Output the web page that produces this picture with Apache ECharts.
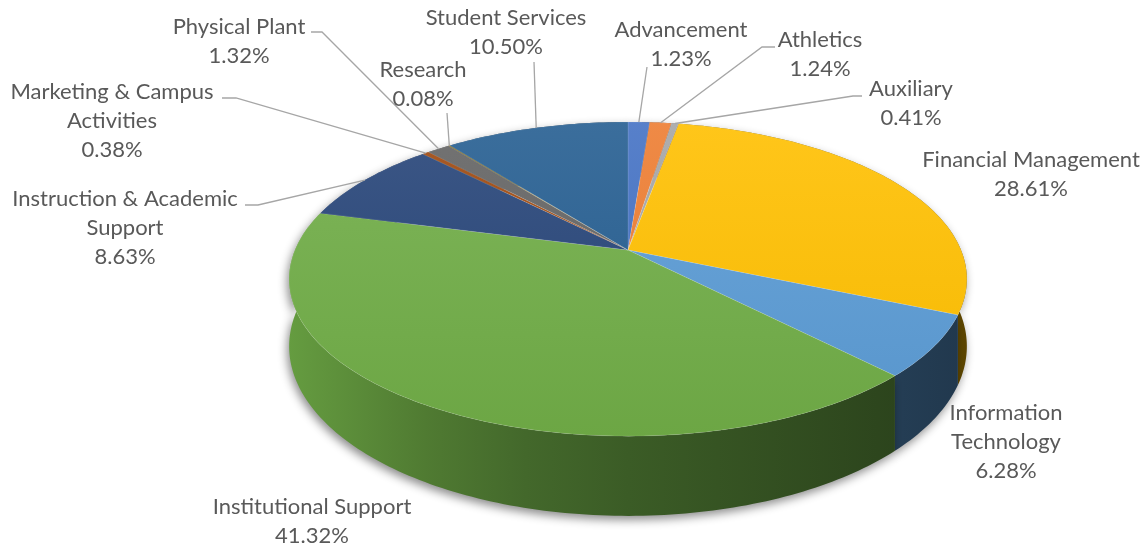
<!DOCTYPE html>
<html><head><meta charset="utf-8">
<script src="https://cdn.jsdelivr.net/npm/echarts@6/dist/echarts.min.js"></script>
<style>html,body{margin:0;padding:0;background:#fff}#c{width:1147px;height:546px}</style>
</head><body><div id="c"></div>
<script>
// ---- data ----
const categories = ['Advancement','Athletics','Auxiliary','Financial Management','Information Technology','Institutional Support','Instruction & Academic Support','Marketing & Campus Activities','Physical Plant','Research','Student Services'];
const values = [1.23, 1.24, 0.41, 28.61, 6.28, 41.32, 8.63, 0.38, 1.32, 0.08, 10.50];
const labelNames = ['Advancement','Athletics','Auxiliary','Financial Management','Information\nTechnology','Institutional Support','Instruction & Academic\nSupport','Marketing & Campus\nActivities','Physical Plant','Research','Student Services'];
const colors = ['#4472C4','#ED7D31','#A5A5A5','#FFC000','#5B9BD5','#70AD47','#264478','#9E480E','#636363','#997300','#255E91'];

// ---- layout (label centre x, first-line centre y, leader-line points near the label) ----
const labelPos = [[681,30],[820,40],[911,89],[1031,160],[1006,413],[312,507],[125,199],[112,92],[239,27],[423,70],[506,18]];
const leaderPts = [
  [[647,67]],
  [[775,47],[762,47]],
  [[862,96],[853,96]],
  null, null, null,
  [[245,205],[258,205]],
  [[222,98],[236,98]],
  [[311,32],[322,32]],
  [[447,113]],
  [[534,62]]
];

// ---- 3D pie projection ----
const CX = 628, CY = 250, R = 333, K = 151.7, P = 0.185, T = 65;
function proj(theta, r, drop) {
  const a = theta * Math.PI / 180;
  const u = r * Math.sin(a), v = r * Math.cos(a);
  const w = 1 + P * v;
  return [CX + R * u / w, CY - K * v / w + (drop ? T / w : 0)];
}
const total = values.reduce((s, v) => s + v, 0);
const starts = [], ends = [];
(function () { let acc = 0; values.forEach((v) => { starts.push(acc / total * 360); acc += v; ends.push(acc / total * 360); }); })();

function rgb(hex) { const n = parseInt(hex.slice(1), 16); return [(n >> 16) & 255, (n >> 8) & 255, n & 255]; }
function shade(hex, f) { const c = rgb(hex); return 'rgb(' + c.map(x => Math.max(0, Math.min(255, Math.round(x * f)))).join(',') + ')'; }
function tint(hex, t) { const c = rgb(hex); return 'rgb(' + c.map(x => Math.round(x + (255 - x) * t)).join(',') + ')'; }

function arc(t1, t2, drop) {
  const pts = [];
  const n = Math.max(2, Math.ceil((t2 - t1) / 1) + 1);
  for (let k = 0; k < n; k++) pts.push(proj(t1 + (t2 - t1) * k / (n - 1), 1, drop));
  return pts;
}

const chart = echarts.init(document.getElementById('c'), null, { renderer: 'canvas' });
const dataItems = categories.map((c, i) => ({ name: c, value: values[i] }));

chart.setOption({
  animation: false,
  backgroundColor: '#ffffff',
  series: [
    { // walls
      type: 'custom', coordinateSystem: 'none', z: 1, silent: true,
      data: dataItems,
      renderItem: function (params) {
        const i = params.dataIndex;
        const top = arc(starts[i], ends[i], false);
        const bot = arc(starts[i], ends[i], true).reverse();
        const mid = (starts[i] + ends[i]) / 2;
        const depth = Math.cos(mid * Math.PI / 180);
        const base = colors[i];
        return {
          type: 'polygon', z2: Math.round((1 - depth) * 100),
          shape: { points: top.concat(bot) },
          style: {
            fill: { type: 'linear', x: 289, y: 0, x2: 967, y2: 0, global: true,
              colorStops: [
                { offset: 0, color: shade(base, 0.9) },
                { offset: 0.2, color: shade(base, 0.71) },
                { offset: 0.35, color: shade(base, 0.6) },
                { offset: 0.5, color: shade(base, 0.53) },
                { offset: 1, color: shade(base, 0.36) }] },
            shadowBlur: 10, shadowColor: 'rgba(0,0,0,0.45)', shadowOffsetX: -2, shadowOffsetY: 4
          }
        };
      }
    },
    { // tops
      type: 'custom', coordinateSystem: 'none', z: 2, silent: true,
      data: dataItems,
      renderItem: function (params) {
        const i = params.dataIndex;
        const pts = [[CX, CY]].concat(arc(starts[i], ends[i], false));
        const base = colors[i];
        return {
          type: 'polygon',
          shape: { points: pts },
          style: {
            fill: { type: 'linear', x: 0, y: 120, x2: 0, y2: 440, global: true,
              colorStops: [{ offset: 0, color: tint(base, 0.1) }, { offset: 1, color: shade(base, 0.96) }] },
            stroke: 'rgba(255,255,255,0.18)', lineWidth: 0.6
          }
        };
      }
    },
    { // labels + leader lines
      type: 'custom', coordinateSystem: 'none', z: 3, silent: true,
      data: dataItems,
      renderItem: function (params) {
        const i = params.dataIndex;
        const children = [];
        const txt = labelNames[i] + '\n' + values[i].toFixed(2) + '%';
        children.push({
          type: 'text',
          style: { text: txt, x: labelPos[i][0], y: labelPos[i][1] - 14.5, align: 'center', verticalAlign: 'top',
            fill: '#595959', fontSize: 22, fontFamily: 'Lato', lineHeight: 29 }
        });
        if (leaderPts[i]) {
          const mid = (starts[i] + ends[i]) / 2;
          const anchor = proj(mid, 1, false);
          children.push({
            type: 'polyline',
            shape: { points: leaderPts[i].concat([anchor]) },
            style: { stroke: '#a6a6a6', lineWidth: 1.3, fill: null }
          });
        }
        return { type: 'group', children: children };
      }
    }
  ]
});
</script>
</body></html>
